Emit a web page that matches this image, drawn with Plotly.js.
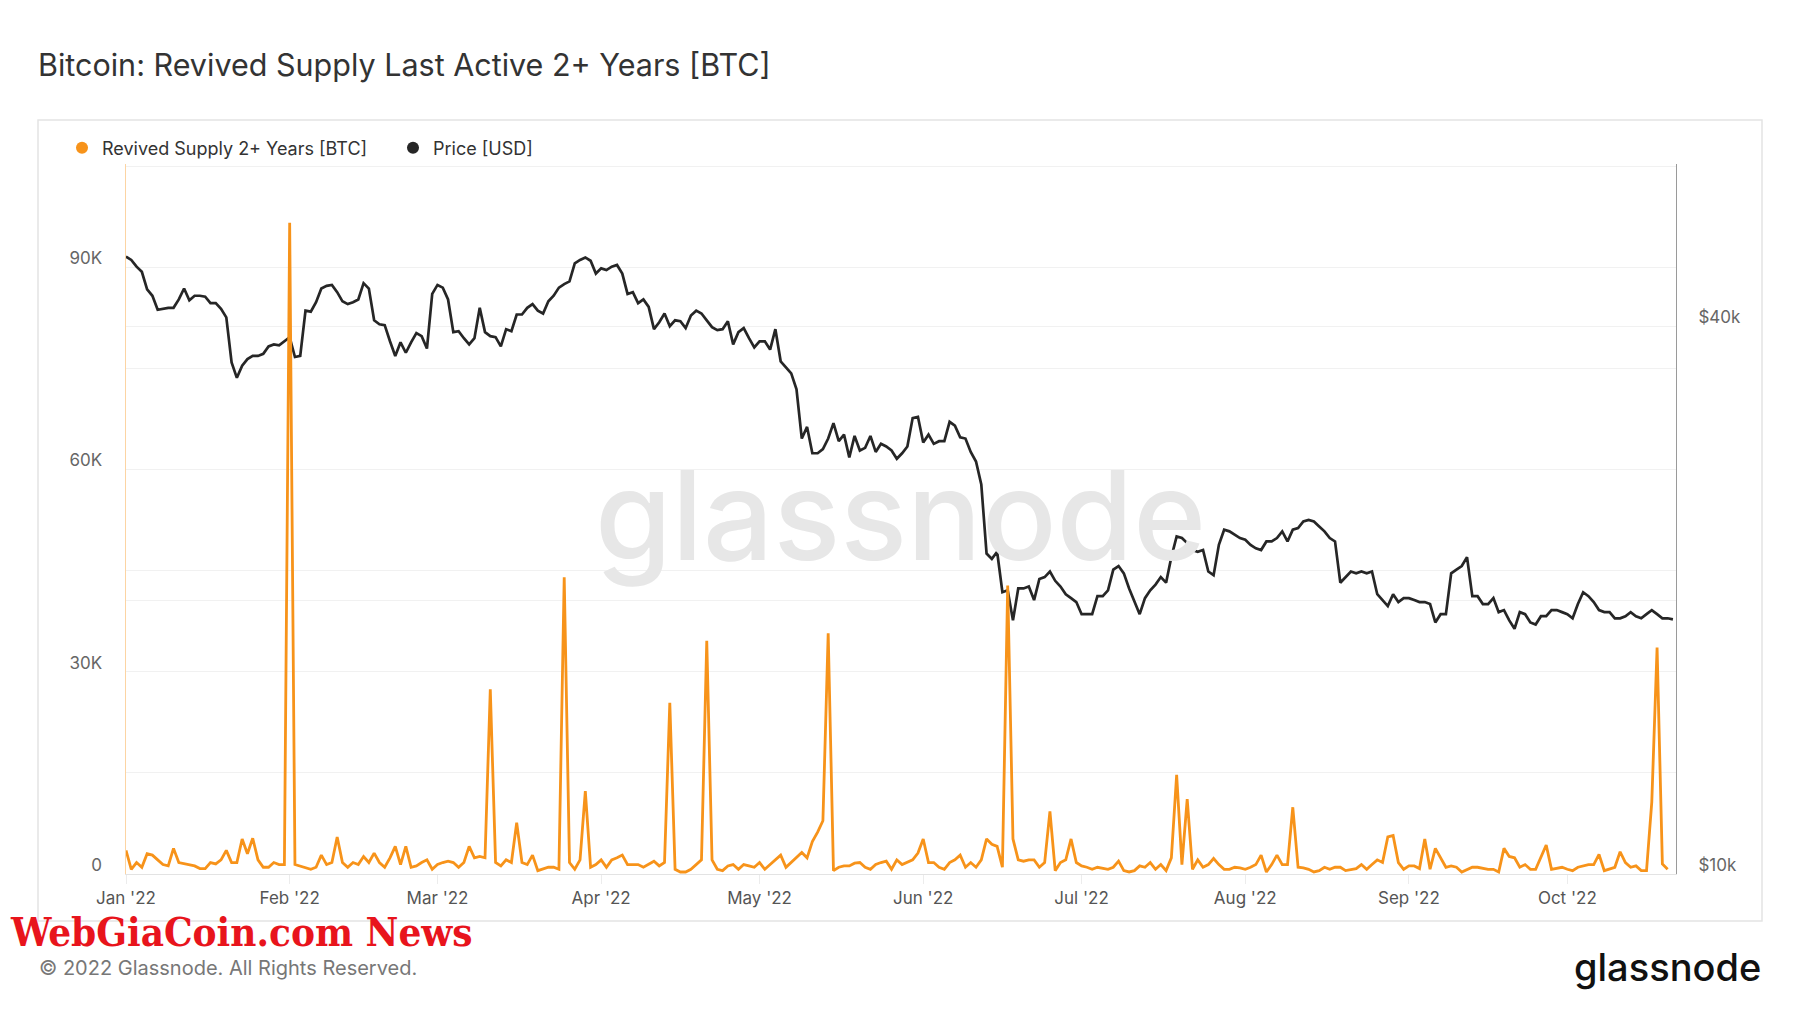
<!DOCTYPE html>
<html>
<head>
<meta charset="utf-8">
<script src="https://cdn.plot.ly/plotly-3.0.1.min.js"></script>
<style>
html,body{margin:0;padding:0;background:#fff;}
#chart{width:1800px;height:1013px;}
</style>
</head>
<body>
<div id="chart"></div>
<script>
// ---------- DATA (daily, starting 2022-01-01) ----------
const startDate = [2022, 0, 1];

// Revived Supply 2+ Years, thousands of BTC
const revivedK = [
  3.5,0.7,1.7,1.0,3.0,2.8,2.1,1.4,1.2,3.8,1.7,1.5,1.4,1.2,0.8,0.8,1.7,1.5,2.1,3.5,1.7,1.7,5.2,3.0,5.3,2.1,1.0,1.0,1.7,1.4,1.4,
  96.6,1.4,1.2,1.0,0.7,1.0,2.8,1.4,1.7,5.5,1.7,1.0,1.7,1.4,2.6,1.7,3.1,1.7,1.0,2.4,4.1,1.4,4.1,1.0,1.2,1.7,2.1,0.7,
  1.4,1.7,1.9,1.7,1.0,1.7,4.1,2.4,2.6,2.4,27.4,1.7,1.2,2.1,1.7,7.6,1.7,1.4,2.8,0.5,0.8,1.0,1.0,0.7,44.0,1.7,0.7,2.1,12.3,1.0,1.4,
  2.1,1.0,2.1,2.4,2.8,1.4,1.4,1.4,1.0,1.4,1.9,1.2,1.7,25.4,0.7,0.3,0.3,0.7,1.4,2.1,34.6,2.1,0.7,0.5,1.2,1.4,0.7,1.4,1.2,1.0,
  1.7,0.7,1.4,2.1,2.8,1.0,1.7,2.4,3.2,2.4,4.8,6.2,7.9,35.7,0.5,1.0,1.2,1.2,1.6,1.7,1.0,0.7,1.4,1.7,1.9,0.7,2.1,1.4,1.7,2.1,3.1,
  5.2,1.7,1.7,1.0,0.7,1.7,2.1,2.8,1.0,1.7,1.0,2.1,5.2,4.4,4.1,1.0,42.8,5.2,2.1,1.9,2.1,2.1,1.0,1.7,9.3,0.5,1.7,2.1,5.2,1.7,
  1.2,1.0,0.7,1.0,0.9,0.7,1.0,1.9,0.5,0.3,0.5,1.2,1.0,1.7,0.7,1.4,0.5,2.4,14.7,1.4,11.1,0.7,2.1,1.0,1.4,2.3,1.4,0.7,0.7,1.0,0.9,
  0.7,1.0,1.4,2.8,0.3,1.4,2.8,1.4,1.4,9.9,1.0,0.9,0.7,0.3,0.5,1.0,0.7,1.0,1.0,0.5,0.7,0.8,1.4,0.7,1.4,2.1,1.7,5.5,5.7,1.7,0.7,
  1.2,1.2,0.8,5.2,0.7,3.8,2.4,1.0,1.2,1.0,0.3,0.7,1.0,1.0,0.8,0.7,0.7,0.3,3.8,2.6,2.4,1.0,1.4,0.7,0.7,2.4,4.3,0.7,0.9,1.0,
  0.7,0.5,1.0,1.2,1.4,1.4,2.9,0.5,0.7,1.0,3.3,1.7,1.0,1.2,0.5,0.5,10.7,33.6,1.5,0.7
];

// Price, thousands of USD
const priceK = [
  47.7,47.3,46.5,45.9,43.9,43.2,41.7,41.8,41.9,41.9,42.8,44.0,42.7,43.2,43.2,43.1,42.4,42.4,41.8,40.9,36.5,35.1,36.2,36.8,37.1,37.1,37.3,38.0,38.2,38.1,38.5,
  38.9,37.0,37.1,41.6,41.5,42.5,44.0,44.3,44.4,43.6,42.6,42.3,42.5,42.8,44.6,44.0,40.6,40.2,40.1,38.5,37.1,38.4,37.4,38.4,39.3,39.0,37.8,43.4,
  44.4,44.1,42.8,39.4,39.5,38.8,38.2,38.8,41.9,39.4,39.0,38.9,38.0,39.7,39.5,41.2,41.2,41.9,42.3,41.6,41.3,42.6,43.2,44.1,44.5,44.8,46.9,47.3,47.6,47.2,45.7,
  46.3,46.1,46.5,46.7,45.7,43.4,43.6,42.4,42.8,42.0,39.7,40.4,41.3,40.0,40.6,40.5,39.8,41.1,41.6,41.3,40.6,39.9,39.6,39.7,40.5,38.2,39.4,39.8,38.8,37.9,
  38.5,38.5,37.7,39.7,36.6,36.0,35.5,34.1,30.1,31.0,29.0,29.0,29.3,30.1,31.3,29.9,30.4,28.7,30.3,29.2,29.4,30.3,29.1,29.7,29.5,29.2,28.6,29.0,29.5,31.7,31.8,
  29.8,30.4,29.7,29.9,29.9,31.4,31.1,30.2,30.1,29.1,28.4,26.8,22.5,22.2,22.6,20.4,20.5,19.0,20.6,20.6,20.7,20.0,21.1,21.2,21.5,21.0,20.7,20.3,20.1,19.9,
  19.3,19.3,19.3,20.2,20.2,20.5,21.6,21.8,21.4,20.6,19.9,19.3,20.1,20.5,20.8,21.2,20.9,22.3,23.5,23.4,23.1,22.7,22.6,22.7,21.5,21.3,23.0,23.9,23.8,23.6,23.4,
  23.3,23.0,22.8,22.7,23.2,23.2,23.4,23.8,23.2,23.9,24.0,24.4,24.5,24.4,24.1,23.8,23.4,23.2,20.9,21.2,21.5,21.4,21.5,21.4,21.5,20.3,20.0,19.7,20.3,19.9,20.1,
  20.1,20.0,19.9,19.9,19.8,18.9,19.3,19.3,21.4,21.6,21.8,22.3,20.2,20.2,19.8,19.8,20.1,19.4,19.5,19.0,18.6,19.4,19.3,18.9,18.8,19.2,19.2,19.5,19.5,19.4,
  19.3,19.1,19.8,20.4,20.2,19.9,19.5,19.4,19.4,19.1,19.1,19.2,19.4,19.2,19.1,19.3,19.5,19.3,19.1,19.1,19.05
];

const leftTickVals = [0, 15000, 30000, 45000, 60000, 75000, 90000, 105000];
const leftTickText = ['0', '', '30K', '', '60K', '', '90K', ''];
const rightTickVals = [10000, 20000, 40000];
const rightTickText = ['$10k', '', '$40k'];

const seriesNames = ['Revived Supply 2+ Years [BTC]', 'Price [USD]'];
const seriesColors = ['#f7931a', '#262626'];

// ---------- HELPERS ----------
function dayStr(i) {
  const d = new Date(Date.UTC(startDate[0], startDate[1], startDate[2] + i));
  return d.toISOString().slice(0, 10);
}
const revivedDates = revivedK.map((_, i) => dayStr(i));
const priceDates = priceK.map((_, i) => dayStr(i));

// pixel -> paper conversion for the fixed plot box
const PL = 126, PR = 1676, PT = 164, PB = 874;
const PW = PR - PL, PH = PB - PT;
const px = v => (v - PL) / PW;
const py = v => (PB - v) / PH;

const FONT = 'Inter, Roboto, "Noto Sans", sans-serif';

// ---------- TRACES ----------
const traces = [
  { // price on base axis (right side, log)
    x: priceDates, y: priceK.map(v => v * 1000),
    type: 'scatter', mode: 'lines', yaxis: 'y', showlegend: false,
    name: seriesNames[1], line: { color: seriesColors[1], width: 2.7 }
  },
  { // revived supply on overlay axis (left side) so it is drawn on top
    x: revivedDates, y: revivedK.map(v => v * 1000),
    type: 'scatter', mode: 'lines', yaxis: 'y2', showlegend: false,
    name: seriesNames[0], line: { color: seriesColors[0], width: 2.8 }
  },
  { x: [null], y: [null], type: 'scatter', mode: 'markers', yaxis: 'y2',
    name: seriesNames[0], marker: { color: seriesColors[0], size: 12 }, showlegend: true },
  { x: [null], y: [null], type: 'scatter', mode: 'markers', yaxis: 'y',
    name: seriesNames[1], marker: { color: seriesColors[1], size: 12 }, showlegend: true }
];

// ---------- LAYOUT ----------
const layout = {
  width: 1800, height: 1013,
  margin: { l: PL, r: 1800 - PR, t: PT, b: 1013 - PB, pad: 0 },
  paper_bgcolor: '#ffffff', plot_bgcolor: '#ffffff',
  font: { family: FONT, color: '#555' },
  title: {
    text: 'Bitcoin: Revived Supply Last Active 2+ Years [BTC]',
    xref: 'container', yref: 'container',
    x: 38 / 1800, xanchor: 'left',
    y: 1 - 65 / 1013, yanchor: 'middle',
    font: { family: FONT, size: 30.5, color: '#333' }
  },
  showlegend: true,
  legend: {
    orientation: 'h', x: px(62), xanchor: 'left', y: py(148), yanchor: 'middle',
    font: { family: FONT, size: 18, color: '#333' },
    bgcolor: 'rgba(0,0,0,0)', entrywidth: 286, entrywidthmode: 'pixels',
    itemclick: false
  },
  xaxis: {
    type: 'date',
    range: ['2022-01-01', '2022-10-21 14:00'],
    tick0: '2022-01-01', dtick: 'M1', tickformat: "%b '%y",
    showgrid: false, zeroline: false,
    ticks: 'outside', ticklen: 9, tickcolor: '#ececec', tickwidth: 1,
    showline: true, linecolor: '#e3e3e3', linewidth: 1,
    tickfont: { family: FONT, size: 17, color: '#555' }
  },
  yaxis: { // price
    type: 'log', side: 'right',
    range: [4, 4.7803],
    tickvals: rightTickVals, ticktext: rightTickText,
    showgrid: true, gridcolor: '#f1f1f1', gridwidth: 1,
    zeroline: false, showline: true, linecolor: '#9a9a9a', linewidth: 1,
    ticks: '', ticklabelstandoff: 18, ticklabelshift: -9,
    tickfont: { family: FONT, size: 17, color: '#666' }
  },
  yaxis2: { // revived supply
    overlaying: 'y', side: 'left',
    range: [0, 105300],
    tickvals: leftTickVals, ticktext: leftTickText,
    showgrid: true, gridcolor: '#f1f1f1', gridwidth: 1,
    zeroline: false, showline: true, linecolor: 'rgba(247,147,26,0.4)', linewidth: 1.5,
    ticks: '', ticklabelstandoff: 19, ticklabelshift: -9,
    tickfont: { family: FONT, size: 17, color: '#666' }
  },
  shapes: [
    { type: 'rect', xref: 'paper', yref: 'paper', layer: 'below',
      x0: px(38), x1: px(1762), y0: py(921), y1: py(120),
      line: { color: '#e4e4e4', width: 1.5 }, fillcolor: 'rgba(0,0,0,0)' }
  ],
  annotations: [
    { text: 'glassnode', xref: 'paper', yref: 'paper', x: px(900), y: py(515),
      xanchor: 'center', yanchor: 'middle', showarrow: false,
      font: { family: FONT, size: 124, color: '#e7e7e7', weight: 500 } },
    { text: 'glassnode', xref: 'paper', yref: 'paper', x: px(1763), y: py(967),
      xanchor: 'right', yanchor: 'middle', showarrow: false,
      font: { family: FONT, size: 38, color: '#111111', weight: 500 } },
    { text: '© 2022 Glassnode. All Rights Reserved.', xref: 'paper', yref: 'paper',
      x: px(37), y: py(968), xanchor: 'left', yanchor: 'middle', showarrow: false,
      font: { family: FONT, size: 20, color: '#777' } },
    { text: 'WebGiaCoin.com News', xref: 'paper', yref: 'paper',
      x: px(8), y: py(906), xanchor: 'left', yanchor: 'top', showarrow: false,
      font: { family: '"DejaVu Serif Condensed", "DejaVu Serif", serif', size: 40, color: '#e8141c', weight: 700 } }
  ]
};

Plotly.newPlot('chart', traces, layout, { displayModeBar: false, staticPlot: true });
</script>
</body>
</html>
